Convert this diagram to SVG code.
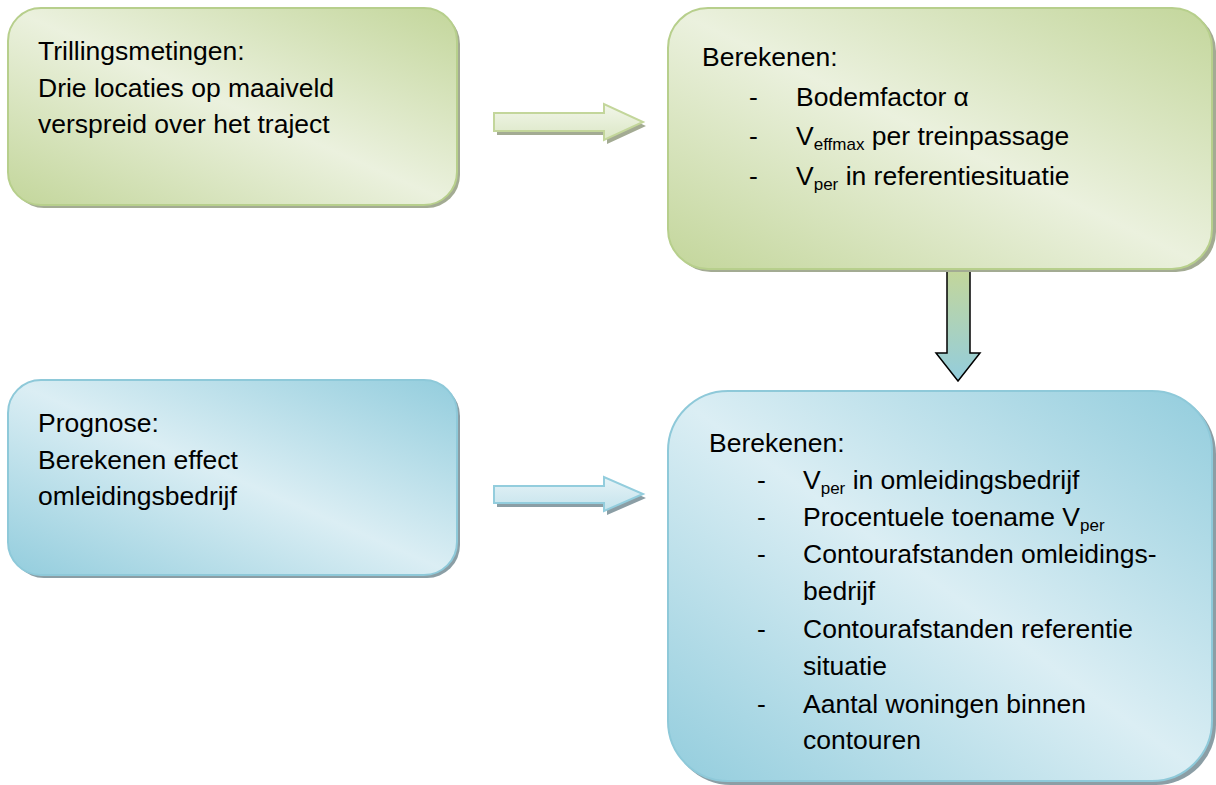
<svg xmlns="http://www.w3.org/2000/svg" width="1216" height="785" viewBox="0 0 1216 785">
<defs>
<linearGradient id="gG" x1="1" y1="0" x2="0" y2="1">
<stop offset="0" stop-color="#c3d69b"/><stop offset="0.5" stop-color="#ebf1de"/><stop offset="1" stop-color="#c3d69b"/>
</linearGradient>
<linearGradient id="gB" x1="1" y1="0" x2="0" y2="1">
<stop offset="0" stop-color="#93cddd"/><stop offset="0.5" stop-color="#dbeef4"/><stop offset="1" stop-color="#93cddd"/>
</linearGradient>
<linearGradient id="aG" x1="0" y1="0" x2="0" y2="1">
<stop offset="0" stop-color="#f2f6ea"/><stop offset="1" stop-color="#dbe7c5"/>
</linearGradient>
<linearGradient id="aB" x1="0" y1="0" x2="0" y2="1">
<stop offset="0" stop-color="#e6f3f7"/><stop offset="1" stop-color="#c4e3ec"/>
</linearGradient>
<linearGradient id="aD" x1="0" y1="0" x2="0" y2="1">
<stop offset="0" stop-color="#c3d69b"/><stop offset="1" stop-color="#93cddd"/>
</linearGradient>
</defs>
<style>
text{font-family:"Liberation Sans",Arial,sans-serif;font-size:26.5px;fill:#000}
.sub{font-size:17px}
.gbox{fill:url(#gG);stroke:#b7cf8c;stroke-width:2}
.bbox{fill:url(#gB);stroke:#8ec9d9;stroke-width:2}
.gsh{fill:#a3ab93}
.bsh{fill:#8b9ea5}
</style>
<rect width="1216" height="785" fill="#fff"/>

<g id="connectors">
<g id="arrow-top">
<polygon class="gsh" points="497,117 607,117 607,108 646,126 607,144 607,135 497,135"/>
<polygon points="494,113 604,113 604,104 643,122 604,140 604,131 494,131" fill="url(#aG)" stroke="#c3d69b" stroke-width="2"/>
</g>
<g id="arrow-down">
<polygon points="947,271 970,271 970,353 980,353 958,381 936,353 947,353" fill="url(#aD)" stroke="#000" stroke-width="1.5"/>
</g>
<g id="arrow-bottom">
<polygon class="bsh" points="497,490 607,490 607,481 646,498 607,515 607,507 497,507"/>
<polygon points="494,486 604,486 604,477 643,494 604,511 604,503 494,503" fill="url(#aB)" stroke="#93cddd" stroke-width="2"/>
</g>
</g>

<g id="node-trillingsmetingen">
<rect class="gsh" x="11" y="11" width="449" height="197" rx="33"/>
<rect class="gbox" x="8" y="8" width="449" height="197" rx="33"/>
<text x="38" y="60">Trillingsmetingen:</text>
<text x="38" y="97">Drie locaties op maaiveld</text>
<text x="38" y="133">verspreid over het traject</text>
</g>

<g id="node-berekenen-1">
<rect class="gsh" x="671" y="11" width="545" height="261" rx="40"/>
<rect class="gbox" x="668" y="8" width="544" height="261" rx="40"/>
<text x="702" y="66">Berekenen:</text>
<text x="749" y="106">-</text><text x="796" y="106">Bodemfactor α</text>
<text x="749" y="145">-</text><text x="796" y="145">V<tspan class="sub" dy="5">effmax</tspan><tspan dy="-5"> per treinpassage</tspan></text>
<text x="749" y="185">-</text><text x="796" y="185">V<tspan class="sub" dy="5">per</tspan><tspan dy="-5"> in referentiesituatie</tspan></text>
</g>

<g id="node-prognose">
<rect class="bsh" x="11" y="383" width="449" height="195" rx="33"/>
<rect class="bbox" x="8" y="380" width="449" height="195" rx="33"/>
<text x="38" y="432">Prognose:</text>
<text x="38" y="469">Berekenen effect</text>
<text x="38" y="505">omleidingsbedrijf</text>
</g>

<g id="node-berekenen-2">
<rect class="bsh" x="671" y="394" width="545" height="391" rx="60"/>
<rect class="bbox" x="668" y="391" width="544" height="390" rx="60"/>
<text x="709" y="452">Berekenen:</text>
<text x="757" y="489">-</text><text x="803" y="489">V<tspan class="sub" dy="5">per</tspan><tspan dy="-5"> in omleidingsbedrijf</tspan></text>
<text x="757" y="526">-</text><text x="803" y="526">Procentuele toename V<tspan class="sub" dy="5">per</tspan></text>
<text x="757" y="563">-</text><text x="803" y="563">Contourafstanden omleidings-</text>
<text x="803" y="600">bedrijf</text>
<text x="757" y="638">-</text><text x="803" y="638">Contourafstanden referentie</text>
<text x="803" y="675">situatie</text>
<text x="757" y="713">-</text><text x="803" y="713">Aantal woningen binnen</text>
<text x="803" y="749">contouren</text>
</g>
</svg>
